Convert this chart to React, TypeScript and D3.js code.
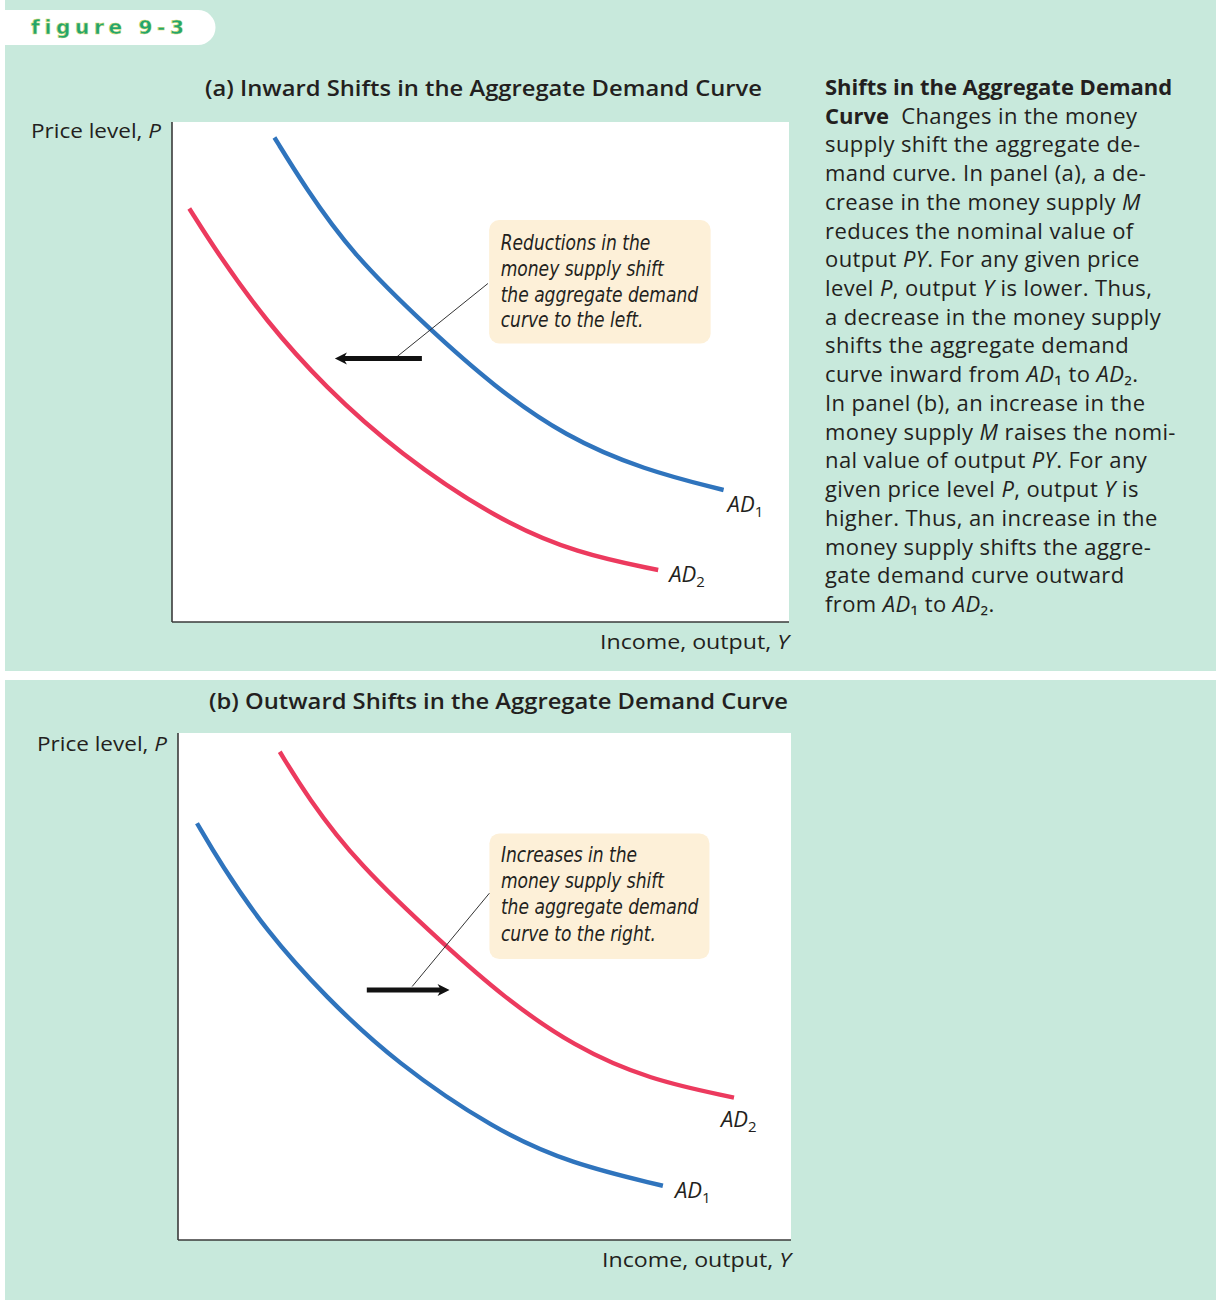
import React from "react";
import * as d3 from "d3";

type Pt = [number, number];

// ---- Data (chart units: income 0–100 across, price level 0–100 up) ----
const A_AD1: Pt[] = [[16.6, 96.9], [21.5, 87.1], [29.1, 73.7], [41.6, 58.7], [52.2, 47.1], [63.7, 37.1], [76.5, 30.4], [89.4, 26.4]];
const A_AD2: Pt[] = [[2.8, 82.7], [7.4, 73.7], [15.1, 60.4], [24.7, 47.1], [36.8, 33.7], [52.8, 20.4], [65.7, 13.7], [78.8, 10.4]];
const B_AD1: Pt[] = [[3.1, 82.2], [6.9, 74.3], [14.3, 61.1], [24.0, 48.0], [35.6, 34.9], [51.7, 21.7], [64.0, 15.1], [79.1, 10.7]];
const B_AD2: Pt[] = [[16.6, 96.3], [21.1, 87.4], [29.2, 74.3], [43.7, 57.9], [53.0, 48.0], [64.6, 38.1], [76.9, 31.6], [90.7, 28.1]];

const A_SHIFT: Pt[] = [[40.5, 52.7], [26.4, 52.7]];
const B_SHIFT: Pt[] = [[30.8, 49.3], [44.3, 49.3]];
const A_POINTER: Pt[] = [[36.5, 53.1], [51.2, 67.7]];
const B_POINTER: Pt[] = [[38.2, 50.0], [50.8, 68.4]];
const A_BOX: Pt[] = [[51.4, 80.4], [87.3, 55.7]];
const B_BOX: Pt[] = [[50.8, 80.2], [86.7, 55.4]];

const A_NOTE = ["Reductions in the", "money supply shift", "the aggregate demand", "curve to the left."];
const B_NOTE = ["Increases in the", "money supply shift", "the aggregate demand", "curve to the right."];

const TITLE_A = "(a) Inward Shifts in the Aggregate Demand Curve";
const TITLE_B = "(b) Outward Shifts in the Aggregate Demand Curve";
const Y_LABEL = "Price level, ";
const X_LABEL = "Income, output, ";
const FIG_LABEL = "figure 9-3";

type Seg = { t: string; b?: boolean; i?: boolean };
const CAPTION: Seg[][] = [
  [{ t: "Shifts in the Aggregate Demand", b: true }],
  [{ t: "Curve", b: true }, { t: "\u00a0\u00a0Changes in the money" }],
  [{ t: "supply shift the aggregate de-" }],
  [{ t: "mand curve. In panel (a), a de-" }],
  [{ t: "crease in the money supply " }, { t: "M", i: true }],
  [{ t: "reduces the nominal value of" }],
  [{ t: "output " }, { t: "PY", i: true }, { t: ". For any given price" }],
  [{ t: "level " }, { t: "P", i: true }, { t: ", output " }, { t: "Y", i: true }, { t: " is lower. Thus," }],
  [{ t: "a decrease in the money supply" }],
  [{ t: "shifts the aggregate demand" }],
  [{ t: "curve inward from " }, { t: "AD", i: true }, { t: "\u2081 to " }, { t: "AD", i: true }, { t: "\u2082." }],
  [{ t: "In panel (b), an increase in the" }],
  [{ t: "money supply " }, { t: "M", i: true }, { t: " raises the nomi-" }],
  [{ t: "nal value of output " }, { t: "PY", i: true }, { t: ". For any" }],
  [{ t: "given price level " }, { t: "P", i: true }, { t: ", output " }, { t: "Y", i: true }, { t: " is" }],
  [{ t: "higher. Thus, an increase in the" }],
  [{ t: "money supply shifts the aggre-" }],
  [{ t: "gate demand curve outward" }],
  [{ t: "from " }, { t: "AD", i: true }, { t: "\u2081 to " }, { t: "AD", i: true }, { t: "\u2082." }],
];

// ---- Styles ----
const BG = "#c8e9dc";
const BLUE = "#2f74bd";
const RED = "#ec3a5e";
const INK = "#231f20";
const NOTE_BG = "#fdf0d8";
const SANS = "'Open Sans', Lato, sans-serif";
const NARROW = "'DejaVu Sans Condensed', 'DejaVu Sans', sans-serif";

type Curve = { data: Pt[]; color: string; sub: string; dx: number; dy: number };

type PanelProps = {
  left: number; top: number; width: number; height: number;
  title: string; titleX: number; titleY: number; titleLen: number;
  yLabelX: number; yLabelY: number; xLabelY: number;
  curves: Curve[];
  shift: Pt[]; pointer: Pt[]; box: Pt[]; note: string[];
  noteFirst: number; noteStep: number;
};

function Panel(p: PanelProps) {
  const x = d3.scaleLinear().domain([0, 100]).range([p.left, p.left + p.width]);
  const y = d3.scaleLinear().domain([0, 100]).range([p.top + p.height, p.top]);
  const line = d3.line<Pt>().x((d) => x(d[0])).y((d) => y(d[1])).curve(d3.curveBasis);

  const [s0, s1] = p.shift;
  const dir = Math.sign(s1[0] - s0[0]);
  const ax1 = x(s1[0]);
  const ay = y(s1[1]);
  const head = 12;
  const hw = 6;
  const bx0 = x(p.box[0][0]);
  const by0 = y(p.box[0][1]);
  const bx1 = x(p.box[1][0]);
  const by1 = y(p.box[1][1]);

  return (
    <g>
      <rect x={p.left} y={p.top} width={p.width} height={p.height} fill="#fff" />
      <text x={p.titleX} y={p.titleY} fontFamily={SANS} fontWeight={600} fontSize={21.5} fill={INK} textAnchor="middle"
        textLength={p.titleLen} lengthAdjust="spacingAndGlyphs">
        {p.title}
      </text>
      <text x={p.yLabelX} y={p.yLabelY} fontFamily={SANS} fontSize={20} fill={INK} textAnchor="end" textLength={130} lengthAdjust="spacingAndGlyphs">
        {Y_LABEL}
        <tspan fontStyle="italic">P</tspan>
      </text>
      <text x={p.left + p.width} y={p.xLabelY} fontFamily={SANS} fontWeight={500} fontSize={20} fill={INK} textAnchor="end" textLength={189} lengthAdjust="spacingAndGlyphs">
        {X_LABEL}
        <tspan fontStyle="italic">Y</tspan>
      </text>
      <line x1={p.left} y1={p.top} x2={p.left} y2={p.top + p.height} stroke="#3a3a3a" strokeWidth={1.6} />
      <line x1={p.left} y1={p.top + p.height} x2={p.left + p.width} y2={p.top + p.height} stroke="#3a3a3a" strokeWidth={1.6} />

      <rect x={bx0} y={by0} width={bx1 - bx0} height={by1 - by0} rx={10} fill={NOTE_BG} />
      <g transform={`translate(${bx0 + 11.5},0) scale(0.865,1)`}>
        {p.note.map((t, i) => (
          <text key={i} x={0} y={by0 + p.noteFirst + i * p.noteStep} fontFamily={NARROW} fontStyle="italic" fontSize={22} fill={INK}>
            {t}
          </text>
        ))}
      </g>

      {p.curves.map((c, i) => (
        <path key={i} d={line(c.data) || ""} fill="none" stroke={c.color} strokeWidth={4.4} />
      ))}

      <line x1={x(p.pointer[0][0])} y1={y(p.pointer[0][1])} x2={x(p.pointer[1][0])} y2={y(p.pointer[1][1])} stroke="#333" strokeWidth={1} />
      <line x1={x(s0[0])} y1={ay} x2={ax1 - dir * head * 0.6} y2={ay} stroke="#111" strokeWidth={5} />
      <path d={`M${ax1},${ay} L${ax1 - dir * head},${ay - hw} L${ax1 - dir * head * 0.72},${ay} L${ax1 - dir * head},${ay + hw} Z`} fill="#111" />

      {p.curves.map((c, i) => {
        const last = c.data[c.data.length - 1];
        return (
          <text key={"l" + i} x={x(last[0]) + c.dx} y={y(last[1]) + c.dy} fontFamily={SANS} fontStyle="italic" fontSize={22} fill={INK}>
            AD
            <tspan fontStyle="normal" fontSize={15} dy={5}>{c.sub}</tspan>
          </text>
        );
      })}
    </g>
  );
}

function Caption() {
  const x0 = 825;
  const y0 = 95;
  const step = 28.72;
  return (
    <g>
      {CAPTION.map((segs, li) => (
        <text key={li} x={x0} y={y0 + li * step} fontFamily={SANS} fontSize={22} fill={INK}>
          {segs.map((s, si) => (
            <tspan key={si} fontWeight={s.b ? 700 : 400} letterSpacing={s.b ? 0 : 0.4} fontStyle={s.i ? "italic" : "normal"}>
              {s.t}
            </tspan>
          ))}
        </text>
      ))}
    </g>
  );
}

export default function App() {
  return (
    <svg width={1216} height={1304} viewBox="0 0 1216 1304" style={{ position: "absolute", left: 0, top: 0 }}>
      <rect x={0} y={0} width={1216} height={1304} fill="#fff" />
      <rect x={5} y={0} width={1211} height={671} fill={BG} />
      <rect x={5} y={680} width={1211} height={620} fill={BG} />
      <path d="M0,10 H198 A17.5,17.5 0 0 1 198,45 H0 Z" fill="#fff" />
      <text x={31} y={34} fontFamily="'DejaVu Sans', sans-serif" fontWeight={700} fontSize={20} letterSpacing={4.7} fill="#22a56f" stroke="#d9dc6a" strokeWidth={0.5}>
        {FIG_LABEL}
      </text>

      <Panel
        left={172} top={122} width={617} height={500}
        title={TITLE_A} titleX={483.5} titleY={96} titleLen={557}
        yLabelX={161} yLabelY={138} xLabelY={649}
        curves={[
          { data: A_AD1, color: BLUE, sub: "1", dx: 4, dy: 22 },
          { data: A_AD2, color: RED, sub: "2", dx: 11, dy: 12 },
        ]}
        shift={A_SHIFT} pointer={A_POINTER} box={A_BOX} note={A_NOTE}
        noteFirst={30} noteStep={25.8}
      />
      <Panel
        left={178} top={733} width={613} height={507}
        title={TITLE_B} titleX={498.5} titleY={709} titleLen={579}
        yLabelX={167} yLabelY={751} xLabelY={1267}
        curves={[
          { data: B_AD1, color: BLUE, sub: "1", dx: 12, dy: 12 },
          { data: B_AD2, color: RED, sub: "2", dx: -13, dy: 29 },
        ]}
        shift={B_SHIFT} pointer={B_POINTER} box={B_BOX} note={B_NOTE}
        noteFirst={28.5} noteStep={26.3}
      />
      <Caption />
    </svg>
  );
}
